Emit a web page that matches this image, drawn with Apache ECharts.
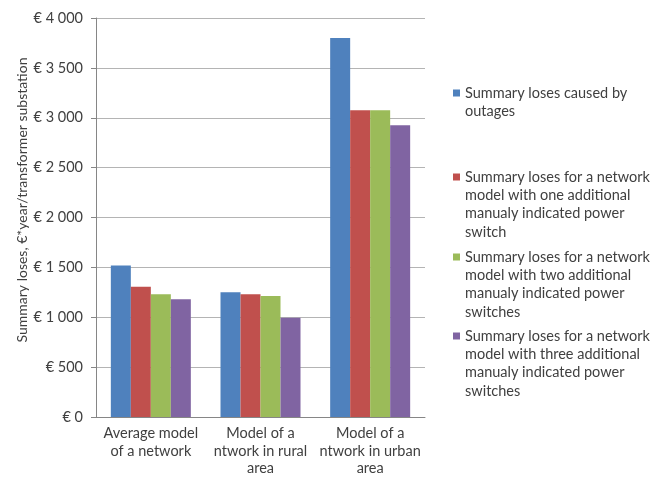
<!DOCTYPE html>
<html>
<head>
<meta charset="utf-8">
<script src="https://cdn.jsdelivr.net/npm/echarts@6/dist/echarts.min.js"></script>
<style>
  html, body { margin: 0; padding: 0; background: #fff; }
  #chart { width: 667px; height: 484px; }
</style>
</head>
<body>
<div id="chart"></div>
<script>
const categories = [
  "Average model\nof a network",
  "Model of a\nntwork in rural\narea",
  "Model of a\nntwork in urban\narea",
];
const seriesNames = [
  "Summary loses caused by outages",
  "Summary loses for a network model with one additional manualy indicated power switch",
  "Summary loses for a network model with two additional manualy indicated power switches",
  "Summary loses for a network model with three additional manualy indicated power switches",
];
const legendLines = [
  "Summary loses caused by\noutages",
  "Summary loses for a network\nmodel with one additional\nmanualy indicated power\nswitch",
  "Summary loses for a network\nmodel with two additional\nmanualy indicated power\nswitches",
  "Summary loses for a network\nmodel with three additional\nmanualy indicated power\nswitches",
];
const outages = [1520, 1250, 3800];
const oneSwitch = [1305, 1230, 3075];
const twoSwitches = [1230, 1212, 3075];
const threeSwitches = [1180, 995, 2925];
const yTicks = [0, 500, 1000, 1500, 2000, 2500, 3000, 3500, 4000];

const colors = ["#4F81BD", "#C0504D", "#9BBB59", "#8064A2"];
const values = [outages, oneSwitch, twoSwitches, threeSwitches];
const textColor = "#404040";
const font = "Lato";
const fs = 14.5;
const lineH = 18.3;
// y of the first text line (icon centre) of each legend entry
const legendIconY = [93, 177, 257, 336];

const myChart = echarts.init(document.getElementById("chart"));

const fmtEuro = (v) => "€ " + String(v).replace(/\B(?=(\d{3})+(?!\d))/g, " ");

// one legend per series so the square sits next to the first line
const legends = seriesNames.map((name, i) => {
  const n = legendLines[i].split("\n").length;
  const blank = "\n".repeat(n - 1);
  return {
    left: 453,
    top: legendIconY[i] - ((2 * n - 1) * lineH) / 2,
    orient: "vertical",
    padding: 0,
    itemWidth: 7,
    itemHeight: 7,
    icon: "rect",
    selectedMode: false,
    data: [name],
    formatter: () => blank + legendLines[i],
    textStyle: {
      color: textColor,
      fontFamily: font,
      fontSize: fs,
      lineHeight: lineH,
    },
  };
});

const option = {
  animation: false,
  backgroundColor: "#fff",
  legend: legends,
  grid: {
    left: 96,
    right: 242,
    top: 18,
    bottom: 67,
  },
  xAxis: {
    type: "category",
    data: categories,
    axisLine: { lineStyle: { color: "#868686" } },
    axisTick: { show: false },
    axisLabel: {
      color: textColor,
      fontFamily: font,
      fontSize: fs,
      lineHeight: 17.5,
      margin: 8,
      interval: 0,
    },
  },
  yAxis: {
    type: "value",
    min: yTicks[0],
    max: yTicks[yTicks.length - 1],
    interval: 500,
    name: "Summary loses, €*year/transformer substation",
    nameLocation: "middle",
    nameGap: 66,
    nameTextStyle: {
      color: textColor,
      fontFamily: font,
      fontSize: 14,
      padding: [0, 0, 0, 35],
    },
    axisLine: { show: true, lineStyle: { color: "#868686" } },
    axisTick: { show: true, length: 5, lineStyle: { color: "#868686" } },
    axisLabel: {
      color: textColor,
      fontFamily: font,
      fontSize: fs,
      margin: 13,
      formatter: fmtEuro,
    },
    splitLine: { lineStyle: { color: "#b4b4b4" } },
  },
  series: seriesNames.map((name, i) => ({
    name: name,
    type: "bar",
    data: values[i],
    color: colors[i],
    barWidth: 20,
    barGap: "0%",
  })),
};

option && myChart.setOption(option);
</script>
</body>
</html>
